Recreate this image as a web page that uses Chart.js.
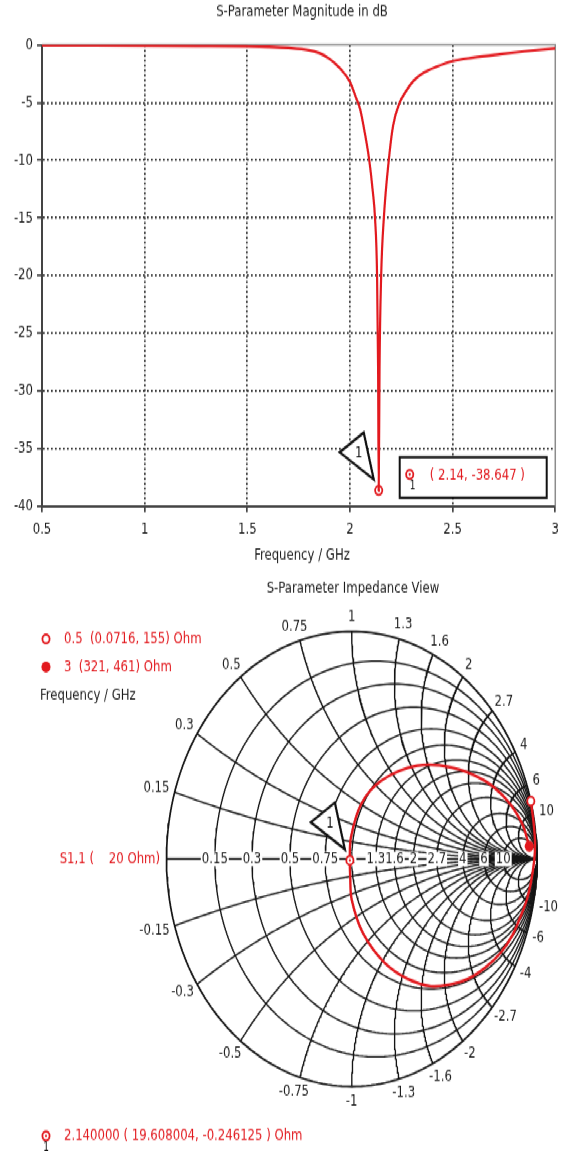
<!DOCTYPE html>
<html>
<head>
<meta charset="utf-8">
<script src="https://cdn.jsdelivr.net/npm/chart.js@4.4.0/dist/chart.umd.min.js"></script>
<style>
html, body { margin: 0; padding: 0; background: #fff; }
body { width: 565px; height: 1151px; overflow: hidden; }
/* the original picture is stretched vertically, so draw upright and stretch */
#wrap { width: 565px; height: 936px; transform: scaleY(1.2297); transform-origin: 0 0; }
.box { position: relative; width: 565px; }
</style>
</head>
<body>
<div id="wrap">
  <div class="box" style="height:470px"><canvas id="mag"></canvas></div>
  <div class="box" style="height:466px"><canvas id="smith"></canvas></div>
</div>
<script>
// S1,1 magnitude in dB (upper plot)
const freqGHz = [0.5, 0.75, 1.0, 1.25, 1.5, 1.6, 1.7, 1.8, 1.85, 1.9, 1.95, 2.0, 2.03, 2.05, 2.07, 2.094, 2.11, 2.122,
    2.132, 2.137, 2.14, 2.144, 2.152, 2.165, 2.189, 2.21, 2.242, 2.27, 2.31, 2.36, 2.42, 2.5, 2.6, 2.73, 2.85, 3.0];
const s11dB = [-0.02, -0.03, -0.05, -0.08, -0.12, -0.16, -0.25, -0.45, -0.7, -1.2, -2.0, -3.2, -4.6, -5.6, -7.4, -10,
    -12.5, -15, -20, -28, -38.647, -28, -20, -15, -10, -7, -5, -4.1, -3.1, -2.4, -1.9, -1.4, -1.1, -0.8, -0.55, -0.3];
const freqTicks = ['0.5', '1', '1.5', '2', '2.5', '3'];
const dbTicks = ['-40', '-35', '-30', '-25', '-20', '-15', '-10', '-5', '0'];
const markerFreq = 2.14;
const markerDb = -38.647;

// S1,1 on the Smith chart as reflection coefficient, 0.5 -> 3 GHz
const s11Re = [0.967, 0.982, 0.99, 0.985, 0.967, 0.945, 0.912, 0.868, 0.805, 0.72, 0.626, 0.53, 0.428, 0.303, 0.177,
    0.059, 0.0, -0.008, -0.01, -0.004, 0.052, 0.161, 0.355, 0.538, 0.715, 0.839, 0.919, 0.9585];
const s11Im = [0.254, 0.16, 0.07, -0.01, -0.106, -0.18, -0.252, -0.335, -0.412, -0.478, -0.528, -0.552, -0.56, -0.528,
    -0.456, -0.323, -0.179, -0.08, -0.006, 0.096, 0.243, 0.345, 0.41, 0.402, 0.345, 0.258, 0.157, 0.056];
const refOhm = 20;
const startFreq = 0.5, startZ = [0.0716, 155];
const endFreq = 3, endZ = [321, 461];
const markerZ = [19.608004, -0.246125];
const resistanceValues = [0.15, 0.3, 0.5, 0.75, 1, 1.3, 1.6, 2, 2.7, 4, 6, 10];
const reactanceValues = [0.15, 0.3, 0.5, 0.75, 1, 1.3, 1.6, 2, 2.7, 4, 6, 10];

const FONT = "'DejaVu Sans Condensed', 'Liberation Sans Narrow', 'DejaVu Sans', sans-serif";
const RED = '#e2191e';
const INK = '#1c1c1c';

Chart.defaults.font.family = FONT;
Chart.defaults.font.size = 13;
Chart.defaults.color = INK;

// normalised impedance -> reflection coefficient
function gamma(r, x) {
    const d = (r + 1) * (r + 1) + x * x;
    return { x: (r * r + x * x - 1) / d, y: 2 * x / d };
}

function drawRing(ctx, px, py, dot) {
    ctx.beginPath();
    ctx.arc(px, py, 3.6, 0, Math.PI * 2);
    ctx.lineWidth = 1.8;
    ctx.strokeStyle = RED;
    ctx.stroke();
    if (dot) {
        ctx.beginPath();
        ctx.arc(px, py, 1.1, 0, Math.PI * 2);
        ctx.fillStyle = RED;
        ctx.fill();
    }
}

// the "1" flag pointing at a marker
function drawFlag(ctx, px, py) {
    ctx.beginPath();
    ctx.moveTo(px - 5, py - 9);
    ctx.lineTo(px - 15, py - 47);
    ctx.lineTo(px - 39, py - 31);
    ctx.closePath();
    ctx.fillStyle = '#fff';
    ctx.fill();
    ctx.lineWidth = 2.2;
    ctx.strokeStyle = '#111';
    ctx.stroke();
    ctx.fillStyle = '#111';
    ctx.font = '13px ' + FONT;
    ctx.textAlign = 'center';
    ctx.textBaseline = 'middle';
    ctx.fillText('1', px - 20, py - 30);
}

// Decorations for the magnitude plot
const magDecor = {
    id: 'magDecor',
    beforeDatasetsDraw(chart) {
        const { ctx, chartArea: a } = chart;
        ctx.save();
        ctx.strokeStyle = '#8c8c8c';
        ctx.lineWidth = 1.5;
        ctx.beginPath();
        ctx.moveTo(a.left, a.top);
        ctx.lineTo(a.right, a.top);
        ctx.lineTo(a.right, a.bottom);
        ctx.stroke();
        ctx.restore();
    },
    afterDatasetsDraw(chart) {
        const { ctx, scales: { x, y } } = chart;
        const mx = x.getPixelForValue(markerFreq);
        const my = y.getPixelForValue(markerDb);
        ctx.save();
        drawRing(ctx, mx, my, true);
        drawFlag(ctx, mx, my);

        // marker readout box
        ctx.fillStyle = '#fff';
        ctx.fillRect(mx + 21, my - 27, 147, 33);
        ctx.lineWidth = 2;
        ctx.strokeStyle = '#111';
        ctx.strokeRect(mx + 21, my - 27, 147, 33);
        drawRing(ctx, mx + 31, my - 13, true);
        ctx.fillStyle = '#111';
        ctx.font = '10px ' + FONT;
        ctx.textAlign = 'center';
        ctx.textBaseline = 'middle';
        ctx.fillText('1', mx + 34, my - 3);
        ctx.fillStyle = RED;
        ctx.font = '13px ' + FONT;
        ctx.textAlign = 'left';
        ctx.fillText('( ' + markerFreq + ', ' + markerDb + ' )', mx + 51, my - 12);
        ctx.restore();
    },
    afterDraw(chart) {
        const ctx = chart.ctx;
        ctx.save();
        ctx.fillStyle = INK;
        ctx.font = '13px ' + FONT;
        ctx.textAlign = 'center';
        ctx.textBaseline = 'middle';
        ctx.fillText('S-Parameter Magnitude in dB', 302, 10);
        ctx.fillText('Frequency / GHz', 302, 452);
        ctx.restore();
    }
};

const hideEdge = (lo, hi) => c => (c.tick && (c.tick.value === lo || c.tick.value === hi)) ? 'rgba(0,0,0,0)' : '#2e2e2e';

new Chart(document.getElementById('mag'), {
    type: 'line',
    data: {
        datasets: [{
            data: freqGHz.map((f, i) => ({ x: f, y: s11dB[i] })),
            borderColor: RED,
            borderWidth: 2.2,
            pointRadius: 0,
            cubicInterpolationMode: 'monotone',
            fill: false
        }]
    },
    options: {
        animation: false,
        responsive: true,
        maintainAspectRatio: false,
        layout: { padding: { top: 36.6, right: 3, left: 0, bottom: 0 } },
        plugins: { legend: { display: false }, tooltip: { enabled: false } },
        scales: {
            x: {
                type: 'linear',
                min: 0.5,
                max: 3,
                afterBuildTicks: s => { s.ticks = freqTicks.map(t => ({ value: parseFloat(t) })); },
                afterFit: s => { s.height = 58.5; },
                ticks: { callback: (v, i) => freqTicks[i], padding: 6, maxRotation: 0, color: INK },
                grid: { color: hideEdge(0.5, 3), lineWidth: 1.7, tickLength: 5, tickColor: '#444' },
                border: { display: true, color: '#444', width: 2, dash: [1.7, 2.3] }
            },
            y: {
                min: -40,
                max: 0,
                afterBuildTicks: s => { s.ticks = dbTicks.map(t => ({ value: parseFloat(t) })); },
                afterFit: s => { s.width = 42; },
                ticks: { callback: (v, i) => dbTicks[i], padding: 4, color: INK },
                grid: { color: hideEdge(-40, 0), lineWidth: 1.7, tickLength: 5, tickColor: '#444' },
                border: { display: true, color: '#444', width: 2, dash: [1.7, 2.3] }
            }
        }
    },
    plugins: [magDecor]
});

// ---------- Smith chart ----------
const SM = { cx: 352, cy: 228.5, R: 186, w: 565, h: 466 };

function gridLine(points, width, order) {
    return {
        data: points,
        showLine: true,
        borderColor: '#151515',
        borderWidth: width,
        pointRadius: 0,
        tension: 0,
        order: order
    };
}

const smithSets = [];
// outer rim and constant resistance circles
[0].concat(resistanceValues).forEach(r => {
    const pts = [];
    for (let k = 0; k <= 240; k++) {
        const t = k / 240 * Math.PI * 2;
        pts.push({ x: r / (1 + r) + Math.cos(t) / (1 + r), y: Math.sin(t) / (1 + r) });
    }
    smithSets.push(gridLine(pts, r === 0 ? 1.7 : 1.35, 10));
});
// constant reactance arcs
reactanceValues.forEach(v => {
    [v, -v].forEach(xv => {
        const pts = [];
        for (let k = 0; k <= 200; k++) {
            pts.push(gamma(Math.tan(k / 200 * Math.PI / 2 * 0.999), xv));
        }
        pts.push({ x: 1, y: 0 });
        smithSets.push(gridLine(pts, 1.35, 10));
    });
});
// real axis, drawn last among the grid so its labels sit on top
const axisIndex = smithSets.length;
smithSets.push(gridLine([{ x: -1, y: 0 }, { x: 1, y: 0 }], 1.4, 5));
// S1,1 trace
smithSets.push({
    data: s11Re.map((re, i) => ({ x: re, y: s11Im[i] })),
    showLine: true,
    borderColor: RED,
    borderWidth: 2.4,
    pointRadius: 0,
    tension: 0.35,
    order: 0
});

const smithDecor = {
    id: 'smithDecor',
    afterDatasetDraw(chart, args) {
        if (args.index !== axisIndex) return;
        const { ctx, scales: { x, y } } = chart;
        ctx.save();
        ctx.font = '13px ' + FONT;
        ctx.textAlign = 'center';
        ctx.textBaseline = 'middle';
        const py = y.getPixelForValue(0);
        resistanceValues.forEach(r => {
            const px = x.getPixelForValue((r - 1) / (r + 1));
            const txt = String(r);
            const w = ctx.measureText(txt).width;
            ctx.fillStyle = '#fff';
            ctx.fillRect(px - w / 2 - 1, py - 6, w + 2, 12);
            ctx.fillStyle = INK;
            ctx.fillText(txt, px, py);
        });
        ctx.restore();
    },
    afterDraw(chart) {
        const { ctx, scales: { x, y } } = chart;
        ctx.save();
        ctx.font = '13px ' + FONT;
        ctx.textBaseline = 'middle';
        ctx.textAlign = 'center';
        ctx.fillStyle = INK;

        // reactance labels round the rim
        reactanceValues.forEach(v => {
            [v, -v].forEach(xv => {
                const g = gamma(0, xv);
                const px = x.getPixelForValue(g.x);
                const py = y.getPixelForValue(g.y);
                const txt = String(xv);
                const w = ctx.measureText(txt).width;
                ctx.fillText(txt, px + g.x * (6 + w / 2), py - g.y * 12);
            });
        });

        // markers on the trace
        const gs = gamma(startZ[0] / refOhm, startZ[1] / refOhm);
        const ge = gamma(endZ[0] / refOhm, endZ[1] / refOhm);
        const gm = gamma(markerZ[0] / refOhm, markerZ[1] / refOhm);
        ctx.fillStyle = '#fff';
        ctx.beginPath();
        ctx.arc(x.getPixelForValue(gs.x), y.getPixelForValue(gs.y), 3.8, 0, Math.PI * 2);
        ctx.fill();
        drawRing(ctx, x.getPixelForValue(gs.x), y.getPixelForValue(gs.y), false);
        ctx.fillStyle = RED;
        ctx.beginPath();
        ctx.arc(x.getPixelForValue(ge.x), y.getPixelForValue(ge.y), 4.5, 0, Math.PI * 2);
        ctx.fill();
        const mx = x.getPixelForValue(gm.x), my = y.getPixelForValue(gm.y);
        ctx.fillStyle = '#fff';
        ctx.beginPath();
        ctx.arc(mx, my, 3.6, 0, Math.PI * 2);
        ctx.fill();
        drawRing(ctx, mx, my, true);
        drawFlag(ctx, mx, my);

        // title and legend
        ctx.font = '13px ' + FONT;
        ctx.textBaseline = 'middle';
        ctx.textAlign = 'center';
        ctx.fillStyle = INK;
        ctx.fillText('S-Parameter Impedance View', 353, 9);

        ctx.textAlign = 'left';
        drawRing(ctx, 46, 49.6, false);
        ctx.fillStyle = RED;
        ctx.fillText(startFreq + '  (' + startZ[0] + ', ' + startZ[1] + ') Ohm', 64, 49.6);
        ctx.beginPath();
        ctx.arc(46, 72.4, 4.5, 0, Math.PI * 2);
        ctx.fill();
        ctx.fillText(endFreq + '  (' + endZ[0] + ', ' + endZ[1] + ') Ohm', 64, 72.4);
        ctx.fillStyle = INK;
        ctx.fillText('Frequency / GHz', 40, 95.2);

        ctx.fillStyle = RED;
        ctx.textAlign = 'right';
        ctx.fillText('S1,1 (    ' + refOhm + ' Ohm)', 160, SM.cy);

        ctx.textAlign = 'left';
        drawRing(ctx, 46, 453.8, true);
        ctx.fillStyle = RED;
        ctx.fillText(markerFreq.toFixed(6) + ' ( ' + markerZ[0].toFixed(6) + ', ' + markerZ[1].toFixed(6) + ' ) Ohm', 64, 453.8);
        ctx.fillStyle = '#111';
        ctx.font = '10px ' + FONT;
        ctx.textAlign = 'center';
        ctx.fillText('1', 46, 463.5);
        ctx.restore();
    }
};

new Chart(document.getElementById('smith'), {
    type: 'scatter',
    data: { datasets: smithSets },
    options: {
        animation: false,
        responsive: true,
        maintainAspectRatio: false,
        layout: { padding: 0 },
        plugins: { legend: { display: false }, tooltip: { enabled: false } },
        scales: {
            x: { type: 'linear', display: false, min: -SM.cx / SM.R, max: (SM.w - SM.cx) / SM.R },
            y: { type: 'linear', display: false, min: -(SM.h - SM.cy) / SM.R, max: SM.cy / SM.R }
        }
    },
    plugins: [smithDecor]
});
</script>
</body>
</html>
